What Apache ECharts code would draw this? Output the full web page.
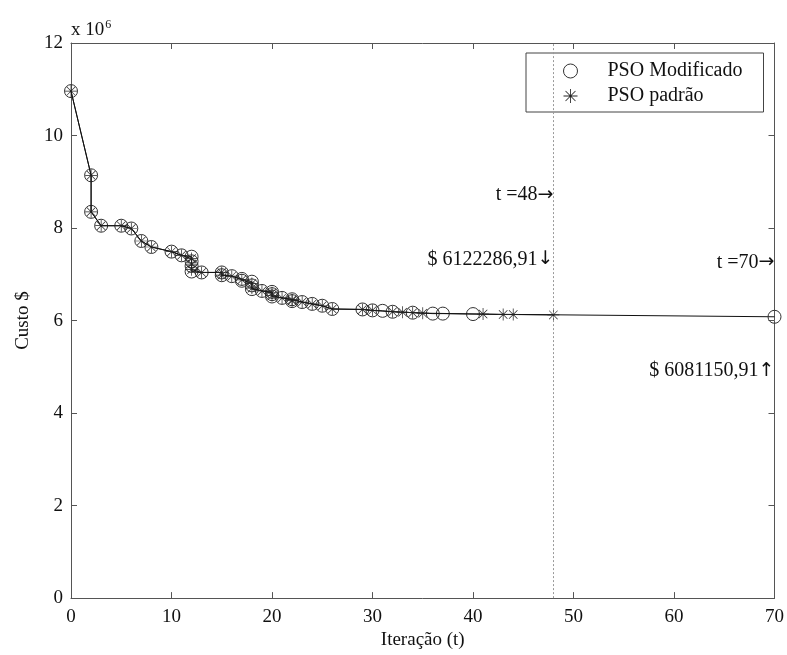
<!DOCTYPE html>
<html>
<head>
<meta charset="utf-8">
<script src="https://cdn.jsdelivr.net/npm/echarts@6/dist/echarts.min.js"></script>
<style>
  html, body { margin: 0; padding: 0; background: #fff; }
  #chart { width: 787px; height: 655px; }
</style>
</head>
<body>
<div id="chart"></div>
<script>
// custo em milhões de $ (eixo "x 10^6")
const iterModificado = [0, 2, 2, 3, 5, 6, 7, 8, 10, 11, 12, 12, 12, 12, 13, 15, 15, 16, 17, 17, 18, 18, 18, 19, 20, 20, 20, 21, 22, 22, 23, 24, 25, 26, 29, 30, 31, 32, 34, 36, 37, 40, 70];
const custoModificado = [10.96, 9.14, 8.35, 8.05, 8.05, 7.99, 7.72, 7.59, 7.49, 7.41, 7.38, 7.28, 7.18, 7.06, 7.04, 7.04, 6.98, 6.96, 6.90, 6.86, 6.84, 6.76, 6.68, 6.64, 6.62, 6.57, 6.52, 6.49, 6.46, 6.42, 6.40, 6.36, 6.32, 6.25, 6.24, 6.22, 6.21, 6.19, 6.17, 6.15, 6.15, 6.14, 6.08115091];

const iterPadrao = [0, 2, 2, 3, 5, 6, 7, 8, 10, 11, 12, 12, 12, 13, 15, 15, 16, 17, 18, 18, 19, 20, 20, 21, 22, 22, 23, 24, 25, 26, 29, 30, 32, 33, 34, 35, 41, 43, 44, 48];
const custoPadrao = [10.96, 9.14, 8.35, 8.05, 8.05, 7.99, 7.72, 7.59, 7.49, 7.41, 7.34, 7.22, 7.10, 7.04, 7.04, 6.98, 6.96, 6.88, 6.80, 6.70, 6.64, 6.60, 6.54, 6.49, 6.45, 6.43, 6.40, 6.36, 6.32, 6.25, 6.24, 6.22, 6.19, 6.18, 6.17, 6.16, 6.14, 6.13, 6.13, 6.12228691];

const seriesNames = ['PSO Modificado', 'PSO padrão'];
const xTicks = [0, 70, 10];
const yTicks = [0, 12, 2];

// anotações: [t, custo, texto, seta]
const notes = [
  [48, 8.72, 't =48', '\u2192'],
  [48, 7.32, '$ 6122286,91', '\u2193'],
  [70, 7.26, 't =70', '\u2192'],
  [70, 4.91, '$ 6081150,91', '\u2191']
];

const serif = '"Liberation Serif", "DejaVu Serif", serif';
const starPath = 'path://M9.4 0L10.6 0L10.6 20L9.4 20ZM0 9.4L20 9.4L20 10.6L0 10.6ZM2.5 3.3L3.3 2.5L17.5 16.7L16.7 17.5ZM16.7 2.5L17.5 3.3L3.3 17.5L2.5 16.7Z';

function pairs(xs, ys) {
  return xs.map((x, i) => [x, ys[i]]);
}

const noteLabel = (n) => ({
  coord: [n[0], n[1]],
  symbol: 'rect',
  symbolSize: 0,
  label: {
    show: true,
    position: 'left',
    distance: 0,
    formatter: '{t|' + n[2] + '}{s|' + n[3] + '}',
    rich: {
      t: { color: '#111', fontFamily: serif, fontSize: 20 },
      s: { color: '#111', fontFamily: '"DejaVu Sans", sans-serif', fontSize: 19 }
    }
  }
});

const axisColor = '#555';
const frameX = (pos, show) => ({
  type: 'value', position: pos, min: xTicks[0], max: xTicks[1], interval: xTicks[2],
  axisLine: { show: true, onZero: false, lineStyle: { color: axisColor, width: 1 } },
  axisTick: { show: true, inside: true, length: 6, lineStyle: { color: axisColor } },
  axisLabel: { show: show, margin: 9, color: '#111', fontFamily: serif, fontSize: 19 },
  splitLine: { show: false }
});
const frameY = (pos, show) => ({
  type: 'value', position: pos, min: yTicks[0], max: yTicks[1], interval: yTicks[2],
  axisLine: { show: true, onZero: false, lineStyle: { color: axisColor, width: 1 } },
  axisTick: { show: true, inside: true, length: 6, lineStyle: { color: axisColor } },
  axisLabel: { show: show, margin: 8, color: '#111', fontFamily: serif, fontSize: 19 },
  splitLine: { show: false }
});

const xMain = frameX('bottom', true);
xMain.name = 'Iteração (t)';
xMain.nameLocation = 'middle';
xMain.nameGap = 28;
xMain.nameTextStyle = { color: '#111', fontFamily: serif, fontSize: 19 };

const yMain = frameY('left', true);
yMain.name = '{a|x 10}{b|6}';
yMain.nameLocation = 'end';
yMain.nameGap = 2;
yMain.nameTextStyle = {
  align: 'left', verticalAlign: 'bottom', color: '#111', fontFamily: serif,
  rich: {
    a: { fontFamily: serif, fontSize: 19, color: '#111' },
    b: { fontFamily: serif, fontSize: 12, color: '#111', verticalAlign: 'top', padding: [0, 0, 10, 1] }
  }
};

// eixo só para o título "Custo $"
const yTitle = {
  type: 'value', position: 'left', min: yTicks[0], max: yTicks[1],
  axisLine: { show: false }, axisTick: { show: false }, axisLabel: { show: false },
  splitLine: { show: false },
  name: 'Custo $', nameLocation: 'middle', nameGap: 38, nameRotate: 90,
  nameTextStyle: { color: '#111', fontFamily: serif, fontSize: 19 }
};

const option = {
  animation: false,
  backgroundColor: '#fff',
  grid: { left: 71, right: 11, top: 43, bottom: 55 },
  legend: {
    orient: 'vertical',
    left: 526,
    top: 53,
    padding: [8, 21, 6, 37],
    itemGap: 5,
    itemWidth: 64,
    itemHeight: 14,
    borderColor: '#444',
    borderWidth: 1,
    textStyle: { color: '#111', fontFamily: serif, fontSize: 20 },
    data: [
      { name: seriesNames[0], icon: 'circle', itemStyle: { color: 'rgba(0,0,0,0)', borderColor: '#333', borderWidth: 1 } },
      { name: seriesNames[1], icon: starPath, itemStyle: { color: '#222', borderWidth: 0 } }
    ]
  },
  xAxis: [xMain, frameX('top', false)],
  yAxis: [yMain, frameY('right', false), yTitle],
  series: [
    {
      name: seriesNames[0],
      type: 'line',
      data: pairs(iterModificado, custoModificado),
      symbol: 'circle',
      symbolSize: 13,
      showAllSymbol: true,
      itemStyle: { color: 'rgba(0,0,0,0)', borderColor: '#333', borderWidth: 1 },
      lineStyle: { color: '#111', width: 1 },
      z: 3,
      markPoint: { data: [noteLabel(notes[2]), noteLabel(notes[3])] }
    },
    {
      name: seriesNames[1],
      type: 'line',
      data: pairs(iterPadrao, custoPadrao),
      symbol: starPath,
      symbolSize: 12,
      showAllSymbol: true,
      itemStyle: { color: '#222', borderWidth: 0 },
      lineStyle: { color: '#111', width: 1 },
      z: 4,
      markLine: {
        silent: true,
        symbol: 'none',
        label: { show: false },
        lineStyle: { color: '#999', width: 1, type: [2, 2] },
        data: [{ xAxis: 48 }]
      },
      markPoint: { data: [noteLabel(notes[0]), noteLabel(notes[1])] }
    }
  ]
};

const chart = echarts.init(document.getElementById('chart'));
chart.setOption(option);
</script>
</body>
</html>
